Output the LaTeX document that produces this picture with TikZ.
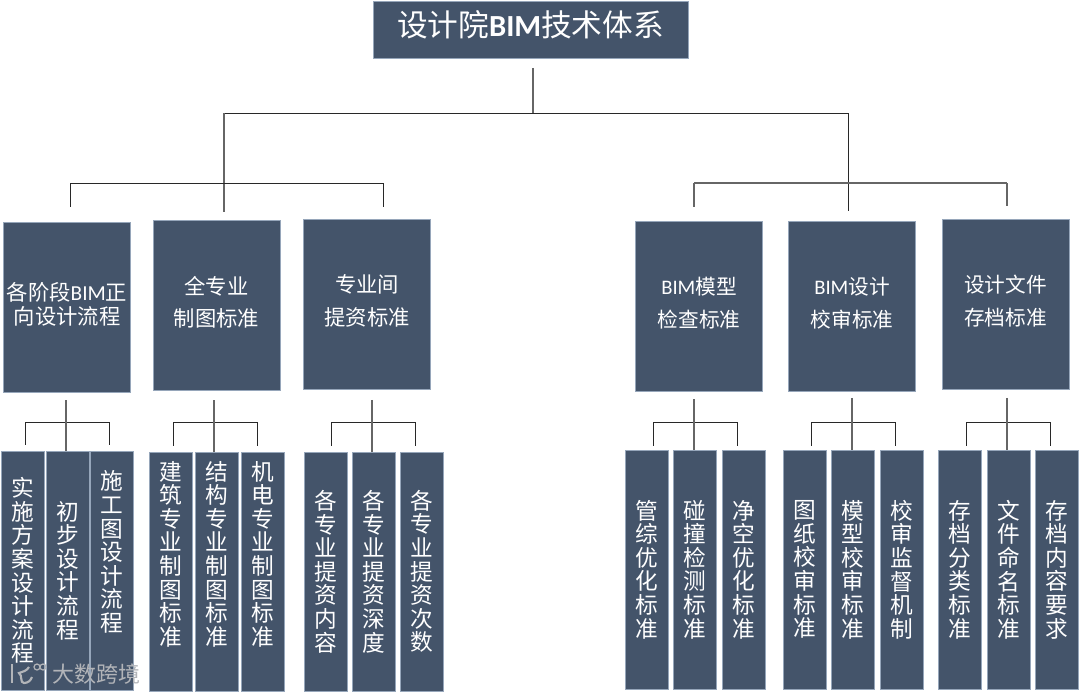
\documentclass[tikz,border=0pt]{standalone}
\usepackage{fontspec}
\setmainfont{Carlito}
\newfontfamily\cjk{Noto Sans CJK SC}
\usetikzlibrary{calc}
\definecolor{boxblue}{RGB}{68,84,106}
\definecolor{boxedge}{RGB}{150,166,186}
\definecolor{linedark}{RGB}{40,40,40}
\definecolor{markgray}{RGB}{178,180,184}
\tikzset{
    rootbox/.style={
        fill=boxblue,
        draw=boxedge,
        line width=0.4pt,
        minimum width=236pt,
        minimum height=43pt,
        inner sep=0pt,
        text depth=9pt,
        text=white,
        font=\cjk\fontsize{23}{26}\selectfont
    },
    % boxes of the middle row
    groupbox/.style={
        fill=boxblue,
        draw=boxedge,
        line width=0.4pt,
        minimum width=95pt,
        minimum height=127.5pt,
        inner sep=0pt,
        text depth=6pt,
        align=center,
        text=white,
        font=\cjk\fontsize{16}{18}\selectfont
    },
    leafbox/.style={
        fill=boxblue,
        draw=boxedge,
        line width=0.4pt,
        minimum width=32.25pt,
        minimum height=179.25pt,
        inner sep=0pt,
        align=center,
        text=white,
        font=\cjk\fontsize{17}{17.7}\selectfont
    },
    leaftext/.style={
        inner sep=0pt,
        align=center,
        text=white,
        font=\cjk\fontsize{17}{17.7}\selectfont
    },
    conn/.style={
        line width=0.7pt,
        linedark
    },
    conngray/.style={
        line width=0.9pt,
        black!60
    },
    markline/.style={
        line width=1.6pt,
        markgray
    }
}

\begin{document}
\begin{tikzpicture}[x=0.75pt,y=-0.75pt]
    \useasboundingbox (0,0) rectangle (1080,693);

    \node[rootbox] (root) at (530.5,29.5) {设计院{\rmfamily\bfseries BIM}技术体系};

    \node[groupbox] (ga) at (67,307) {各阶段{\rmfamily BIM}正\\向设计流程};
    \node[groupbox,font=\cjk\fontsize{16}{24}\selectfont] (gb) at (216.5,305.5) {全专业\\制图标准};
    \node[groupbox,font=\cjk\fontsize{16}{24.75}\selectfont] (gc) at (367,304) {专业间\\提资标准};
    \node[groupbox,font=\cjk\fontsize{15.5}{24.75}\selectfont] (gd) at (699,306) {{\rmfamily BIM}模型\\检查标准};
    \node[groupbox,font=\cjk\fontsize{15.5}{24.75}\selectfont] (ge) at (852,306) {{\rmfamily BIM}设计\\校审标准};
    \node[groupbox,font=\cjk\fontsize{15.5}{24.75}\selectfont] (gf) at (1005.5,304.5) {设计文件\\存档标准};

    \node[leafbox] (a1) at (22.5,570.5) {实\\施\\方\\案\\设\\计\\流\\程};
    \node[leafbox] (a2) at (67.5,570.5) {初\\步\\设\\计\\流\\程};
    \node[leafbox] (a3) at (111.5,570.5) {};
    \node[leaftext] (a3t) at (112,552) {施\\工\\图\\设\\计\\流\\程};

    \node[leafbox] (b1) at (170.5,571.5) {};
    \node[leaftext] (b1t) at (171,554) {建\\筑\\专\\业\\制\\图\\标\\准};
    \node[leafbox] (b2) at (216.5,571.5) {};
    \node[leaftext] (b2t) at (217,554) {结\\构\\专\\业\\制\\图\\标\\准};
    \node[leafbox] (b3) at (262.5,571.5) {};
    \node[leaftext] (b3t) at (263,554) {机\\电\\专\\业\\制\\图\\标\\准};

    \node[leafbox] (c1) at (325.5,571.5) {各\\专\\业\\提\\资\\内\\容};
    \node[leafbox] (c2) at (373.5,571.5) {各\\专\\业\\提\\资\\深\\度};
    \node[leafbox] (c3) at (421.5,571.5) {各\\专\\业\\提\\资\\次\\数};

    \node[leafbox] (d1) at (646.5,569.5) {管\\综\\优\\化\\标\\准};
    \node[leafbox] (d2) at (694.5,569.5) {碰\\撞\\检\\测\\标\\准};
    \node[leafbox] (d3) at (743.5,569.5) {净\\空\\优\\化\\标\\准};

    \node[leafbox] (e1) at (804.5,569.5) {图\\纸\\校\\审\\标\\准};
    \node[leafbox] (e2) at (852.5,569.5) {模\\型\\校\\审\\标\\准};
    \node[leafbox] (e3) at (901.5,569.5) {校\\审\\监\\督\\机\\制};

    \node[leafbox] (f1) at (959.5,569.5) {存\\档\\分\\类\\标\\准};
    \node[leafbox] (f2) at (1008.5,569.5) {文\\件\\命\\名\\标\\准};
    \node[leafbox] (f3) at (1056.5,569.5) {存\\档\\内\\容\\要\\求};

    % upper tree
    \coordinate (busroot) at (533,113);
    \coordinate (busleft) at (224,113);
    \coordinate (busright) at (848,113);
    \coordinate (busga) at (70,183);
    \coordinate (busgc) at (383,183);
    \coordinate (busgd) at (694,183);
    \coordinate (busgf) at (1007,183);
    \draw[conngray,shorten <=7pt] (root.south -| busroot) -- (busroot);
    \draw[conn] (busleft) -- (busright);
    \draw[conngray,shorten >=6pt] (busleft) -- (gb.north -| busleft);
    \draw[conn,shorten >=7pt] (busright) -- (ge.north -| busright);
    \draw[conn] (busga) -- (busgc);
    \draw[conngray] (busgd) -- (busgf);
    \draw[conn,shorten >=11pt] (busga) -- (ga.north -| busga);
    \draw[conn,shorten >=9pt] (busgc) -- (gc.north -| busgc);
    \draw[conngray,shorten >=10pt] (busgd) -- (gd.north -| busgd);
    \draw[conngray,shorten >=10pt] (busgf) -- (gf.north -| busgf);

    % lower trees
    \coordinate (ja) at (66,422);
    \coordinate (jal) at (25,422);
    \coordinate (jar) at (109,422);
    \draw[conn] (jal) -- (jar);
    \draw[conngray,shorten <=6pt] (ga.south -| ja) -- (a2.north -| ja);
    \draw[conn,shorten >=4pt] (jal) -- (a1.north -| jal);
    \draw[conn,shorten >=4pt] (jar) -- (a3.north -| jar);

    \coordinate (jb) at (214,422);
    \coordinate (jbl) at (173,422);
    \coordinate (jbr) at (257,422);
    \draw[conn] (jbl) -- (jbr);
    \draw[conngray,shorten <=7pt] (gb.south -| jb) -- (b2.north -| jb);
    \draw[conn,shorten >=4pt] (jbl) -- (b1.north -| jbl);
    \draw[conn,shorten >=4pt] (jbr) -- (b3.north -| jbr);

    \coordinate (jc) at (372,422);
    \coordinate (jcl) at (331,422);
    \coordinate (jcr) at (415,422);
    \draw[conn] (jcl) -- (jcr);
    \draw[conngray,shorten <=8pt] (gc.south -| jc) -- (c2.north -| jc);
    \draw[conn,shorten >=4pt] (jcl) -- (c1.north -| jcl);
    \draw[conn,shorten >=4pt] (jcr) -- (c3.north -| jcr);

    \coordinate (jd) at (694,422);
    \coordinate (jdl) at (653,422);
    \coordinate (jdr) at (737,422);
    \draw[conn] (jdl) -- (jdr);
    \draw[conngray,shorten <=6pt] (gd.south -| jd) -- (d2.north -| jd);
    \draw[conn,shorten >=3pt] (jdl) -- (d1.north -| jdl);
    \draw[conn,shorten >=3pt] (jdr) -- (d3.north -| jdr);

    \coordinate (je) at (852,422);
    \coordinate (jel) at (811,422);
    \coordinate (jer) at (895,422);
    \draw[conn] (jel) -- (jer);
    \draw[conngray,shorten <=5pt] (ge.south -| je) -- (e2.north -| je);
    \draw[conn,shorten >=3pt] (jel) -- (e1.north -| jel);
    \draw[conn,shorten >=3pt] (jer) -- (e3.north -| jer);

    \coordinate (jf) at (1007,422);
    \coordinate (jfl) at (966,422);
    \coordinate (jfr) at (1050,422);
    \draw[conn] (jfl) -- (jfr);
    \draw[conngray,shorten <=6pt] (gf.south -| jf) -- (f2.north -| jf);
    \draw[conn,shorten >=3pt] (jfl) -- (f1.north -| jfl);
    \draw[conn,shorten >=3pt] (jfr) -- (f3.north -| jfr);

    % mark in the corner
    \draw[markline] (12,664) -- (12,683);
    \draw[markline] (29,667) to[out=-120,in=20] (19,673) to[out=-30,in=180] (24,683) to[out=0,in=-110] (32,677);
    \draw[line width=0.9pt,markgray] (37,667) circle (3) (43,667) circle (3);
    \node[text=markgray,inner sep=0pt,font=\cjk\fontsize{16.5}{18}\selectfont] (mark) at (96,674) {大数跨境};
\end{tikzpicture}
\end{document}
